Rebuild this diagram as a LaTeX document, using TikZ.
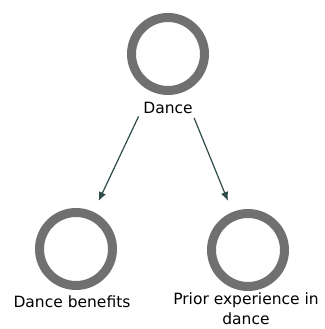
\documentclass[tikz,border=0pt]{standalone}
\usepackage{fontspec}
\setmainfont{DejaVu Sans}
\usetikzlibrary{arrows.meta}
\definecolor{ringgray}{HTML}{707070}
\definecolor{arrowcol}{HTML}{2E4A4A}
\begin{document}
\begin{tikzpicture}[x=1pt,y=1pt,
  ring/.style={circle,draw=ringgray,line width=9pt,minimum size=73pt,inner sep=0pt},
  lbl/.style={font=\fontsize{15.5}{20}\selectfont,align=center,inner sep=0pt,text=black},
  link/.style={draw=arrowcol,line width=1.2pt,-{Latex[length=9pt,width=7.5pt]}}]
\useasboundingbox (0,0) rectangle (324,329);
\node[ring] (top) at (168,275) {};
\node[ring] (bl) at (76,80) {};
\node[ring] (br) at (248,79) {};
\node[lbl] (ltop) at (168,221) {Dance};
\node[lbl] (lbl1) at (72,27) {Dance benefits};
\node[lbl,anchor=north] (lbl2) at (246,36) {Prior experience in\\dance};
\draw[link,shorten <=28pt,shorten >=12pt] (top) -- (bl);
\draw[link,shorten <=28pt,shorten >=12pt] (top) -- (br);
\end{tikzpicture}
\end{document}
